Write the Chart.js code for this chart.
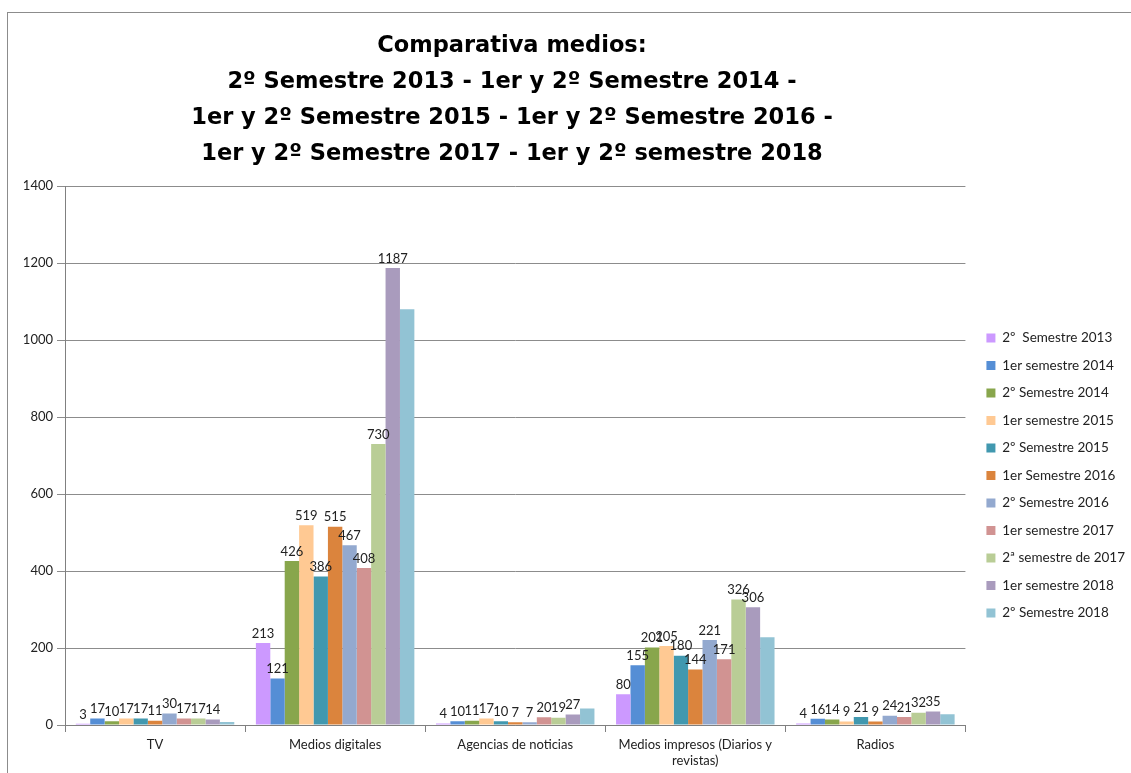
<!DOCTYPE html>
<html>
<head>
<meta charset="utf-8">
<script src="https://cdn.jsdelivr.net/npm/chart.js@4.4.0/dist/chart.umd.min.js"></script>
<style>
  html, body { margin:0; padding:0; background:#fff; }
  #wrap { position:relative; width:1131px; height:773px; overflow:hidden; }
  #frame { position:absolute; left:7px; top:12px; width:1200px; height:800px; border:1px solid #8c8c8c; }
  #chart { position:absolute; left:0; top:0; }
</style>
</head>
<body>
<div id="wrap">
  <div id="frame"></div>
  <canvas id="chart" width="1131" height="773"></canvas>
</div>
<script>
const categories = ['TV', 'Medios digitales', 'Agencias de noticias', ['Medios impresos (Diarios y', 'revistas)'], 'Radios'];

const seriesNames = [
  '2º  Semestre 2013', '1er semestre 2014', '2º Semestre 2014', '1er semestre 2015',
  '2º Semestre 2015', '1er Semestre 2016', '2º Semestre 2016', '1er semestre 2017',
  '2ª semestre de 2017', '1er semestre 2018', '2º Semestre 2018'
];

const sem2013b = [3, 213, 4, 80, 4];
const sem2014a = [17, 121, 10, 155, 16];
const sem2014b = [10, 426, 11, 201, 14];
const sem2015a = [17, 519, 17, 205, 9];
const sem2015b = [17, 386, 10, 180, 21];
const sem2016a = [11, 515, 7, 144, 9];
const sem2016b = [30, 467, 7, 221, 24];
const sem2017a = [17, 408, 20, 171, 21];
const sem2017b = [17, 730, 19, 326, 32];
const sem2018a = [14, 1187, 27, 306, 35];
const sem2018b = [8, 1080, 43, 228, 28];

const seriesValues = [sem2013b, sem2014a, sem2014b, sem2015a, sem2015b, sem2016a,
  sem2016b, sem2017a, sem2017b, sem2018a, sem2018b];

const colors = ['#cc99ff', '#558ed5', '#88a64c', '#ffc993', '#4198af', '#db843d',
  '#93a9cf', '#d19392', '#b9cd96', '#a99bbd', '#92c3d4'];

const titleLines = [
  'Comparativa medios:',
  '2º Semestre 2013 - 1er y 2º Semestre 2014 -',
  '1er y 2º Semestre 2015 - 1er y 2º Semestre 2016 -',
  '1er y 2º Semestre 2017 - 1er y 2º semestre 2018'
];

const yTicks = [0, 200, 400, 600, 800, 1000, 1200, 1400];

const FONT = 'Lato, "DejaVu Sans", sans-serif';

// value labels above bars (last series has none)
const valueLabels = {
  id: 'valueLabels',
  afterDatasetsDraw(chart) {
    const ctx = chart.ctx;
    ctx.save();
    ctx.font = '13px ' + FONT;
    ctx.fillStyle = '#222';
    ctx.textAlign = 'center';
    ctx.textBaseline = 'bottom';
    chart.data.datasets.forEach((ds, i) => {
      if (i === chart.data.datasets.length - 1) return;
      const meta = chart.getDatasetMeta(i);
      meta.data.forEach((bar, j) => {
        ctx.fillText(String(ds.data[j]), bar.x, bar.y - 3);
      });
    });
    ctx.restore();
  }
};

// nudge legend down/right and title left, like the original
const boxShift = {
  id: 'boxShift',
  afterLayout(chart) {
    const lg = chart.legend;
    if (lg) {
      lg.top += 82; lg.bottom += 82;
      lg.left += 7; lg.right += 7;
    }
    const tb = chart.titleBlock;
    if (tb) { tb.left -= 52; tb.right -= 52; }
  }
};

const ctx = document.getElementById('chart').getContext('2d');
new Chart(ctx, {
  type: 'bar',
  data: {
    labels: categories,
    datasets: seriesNames.map((name, i) => ({
      label: name,
      data: seriesValues[i],
      backgroundColor: colors[i],
      borderWidth: 0,
      categoryPercentage: 0.88,
      barPercentage: 1.0
    }))
  },
  options: {
    responsive: false,
    animation: false,
    layout: { padding: { top: 14, right: 3, left: 0, bottom: 0 } },
    plugins: {
      title: {
        display: true,
        text: titleLines,
        color: '#000',
        font: { family: '"DejaVu Sans", sans-serif', size: 22.5, weight: 'bold', lineHeight: 1.6 },
        padding: { top: 14, bottom: 14 }
      },
      legend: {
        position: 'right',
        labels: {
          boxWidth: 9,
          boxHeight: 9,
          padding: 14,
          color: '#222',
          font: { family: FONT, size: 13.5 }
        }
      },
      tooltip: { enabled: false }
    },
    scales: {
      x: {
        grid: { display: true, drawOnChartArea: false, offset: true, color: '#808080', tickLength: 7 },
        border: { color: '#808080' },
        ticks: { color: '#222', font: { family: FONT, size: 13 }, maxRotation: 0, autoSkip: false, padding: 5 },
        afterFit(s) { s.height = 48; }
      },
      y: {
        min: 0,
        max: 1400,
        afterBuildTicks(s) { s.ticks = yTicks.map(v => ({ value: v })); },
        grid: { color: '#8c8c8c', tickLength: 8 },
        border: { color: '#808080' },
        ticks: { color: '#222', font: { family: FONT, size: 13 }, padding: 4, callback: v => String(v) },
        afterFit(s) { s.width = 65; }
      }
    }
  },
  plugins: [valueLabels, boxShift]
});
</script>
</body>
</html>
